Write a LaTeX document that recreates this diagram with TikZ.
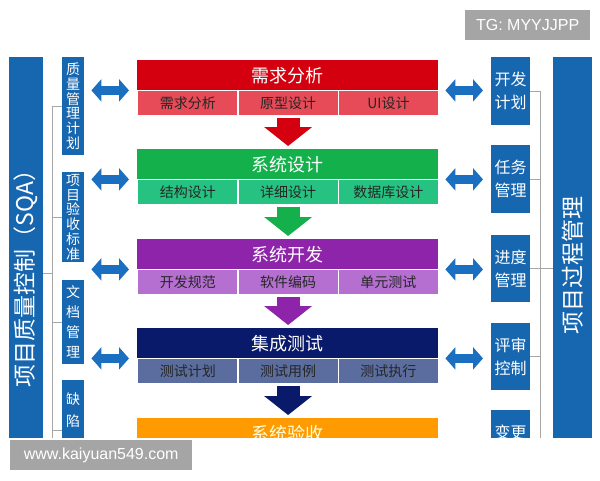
\documentclass[tikz,border=0pt]{standalone}
\usepackage{fontspec}
\setmainfont{Noto Sans CJK SC}
\newfontfamily\wmfont{Liberation Sans}
\usetikzlibrary{arrows.meta}
\definecolor{reqtop}{HTML}{D4000F}
\definecolor{reqsub}{HTML}{E64B57}
\definecolor{destop}{HTML}{13B04B}
\definecolor{dessub}{HTML}{26C281}
\definecolor{devtop}{HTML}{8E24AA}
\definecolor{devsub}{HTML}{B56FD0}
\definecolor{tsttop}{HTML}{0A1A6A}
\definecolor{tstsub}{HTML}{5B6D9E}
\definecolor{acctop}{HTML}{FF9A00}
\definecolor{boxblue}{HTML}{1666B0}
\definecolor{arrowblue}{HTML}{1A6FC1}
\definecolor{wmgray}{HTML}{A5A5A5}
\begin{document}
\begin{tikzpicture}[x=1pt,y=-1pt,
    title/.style={anchor=north west,minimum width=301pt,minimum height=30pt,inner sep=0pt,
      text=white,font=\fontsize{18}{18}\selectfont},
    cell/.style={anchor=north west,minimum width=100.33pt,minimum height=25pt,inner sep=0pt,
      draw=white,line width=1.2pt,text=black!85,font=\fontsize{14}{14}\selectfont},
    qbox/.style={fill=boxblue,text=white,anchor=north west,minimum width=22pt,inner sep=0pt,
      align=center,font=\fontsize{14}{14.8}\selectfont},
    pbox/.style={fill=boxblue,text=white,anchor=north west,minimum width=39pt,inner sep=0pt,
      align=center,font=\fontsize{16}{23}\selectfont},
    bar/.style={fill=boxblue,text=white,rotate=90,inner sep=0pt,font=\fontsize{23}{23}\selectfont},
    biarrow/.style={draw=arrowblue,line width=9pt,
      {Triangle[width=22pt,length=10pt]}-{Triangle[width=22pt,length=10pt]}},
    downarrow/.style={line width=23pt,-{Triangle[width=47pt,length=19pt]},
      shorten <=2pt,shorten >=3pt},
    bracket/.style={draw=gray!70,line width=1pt},
    wm/.style={fill=wmgray,text=white,anchor=north west,minimum height=30pt,inner sep=0pt,
      font=\wmfont\fontsize{16}{16}\selectfont}]
  \useasboundingbox (0,0) rectangle (600,480);
  \begin{scope}
    \clip (0,0) rectangle (600,437);
    \node[bar,minimum width=432pt,minimum height=34pt] (sqa) at (26,273) {项目质量控制（SQA）};
    \node[bar,minimum width=416pt,minimum height=39pt] (pm) at (572.5,265) {项目过程管理};
    \node[qbox,minimum height=98pt] (lq1) at (62,57) {质\\量\\管\\理\\计\\划};
    \node[qbox,minimum height=90pt] (lq2) at (62,172) {项\\目\\验\\收\\标\\准};
    \node[qbox,minimum height=84pt,font=\fontsize{14}{20}\selectfont] (lq3) at (62,280) {文\\档\\管\\理};
    \node[qbox,minimum height=60pt,font=\fontsize{14}{22}\selectfont] (lq4) at (62,380) {缺\\陷};
    \node[pbox,minimum height=68pt] (rp1) at (491,57) {开发\\计划};
    \node[pbox,minimum height=68pt] (rp2) at (491,145) {任务\\管理};
    \node[pbox,minimum height=67pt] (rp3) at (491,235) {进度\\管理};
    \node[pbox,minimum height=67pt] (rp4) at (491,323) {评审\\控制};
    \node[pbox,minimum height=44pt] (rp5) at (491,410) {变更};
    \node[title,fill=reqtop] (req) at (137,60) {需求分析};
    \node[cell,fill=reqsub] (req1) at (137,90) {需求分析};
    \node[cell,fill=reqsub] (req2) at (237.33,90) {原型设计};
    \node[cell,fill=reqsub] (req3) at (337.67,90) {UI设计};
    \node[title,fill=destop] (des) at (137,149) {系统设计};
    \node[cell,fill=dessub] (des1) at (137,179) {结构设计};
    \node[cell,fill=dessub] (des2) at (237.33,179) {详细设计};
    \node[cell,fill=dessub] (des3) at (337.67,179) {数据库设计};
    \node[title,fill=devtop] (dev) at (137,239) {系统开发};
    \node[cell,fill=devsub] (dev1) at (137,269) {开发规范};
    \node[cell,fill=devsub] (dev2) at (237.33,269) {软件编码};
    \node[cell,fill=devsub] (dev3) at (337.67,269) {单元测试};
    \node[title,fill=tsttop] (tst) at (137,328) {集成测试};
    \node[cell,fill=tstsub] (tst1) at (137,358) {测试计划};
    \node[cell,fill=tstsub] (tst2) at (237.33,358) {测试用例};
    \node[cell,fill=tstsub] (tst3) at (337.67,358) {测试执行};
    \node[title,fill=acctop,text=white!85!yellow] (acc) at (137,418) {系统验收};
    \draw[downarrow,draw=reqtop] (req2.south) -- (req2.south |- des.north);
    \draw[downarrow,draw=destop] (des2.south) -- (des2.south |- dev.north);
    \draw[downarrow,draw=devtop] (dev2.south) -- (dev2.south |- tst.north);
    \draw[downarrow,draw=tsttop] (tst2.south) -- (tst2.south |- acc.north);
    \begin{scope}[shorten <=7pt,shorten >=8pt]
      \draw[biarrow] (lq1.east |- req.south west) -- (req.south west);
      \draw[biarrow] (lq2.east |- des.south west) -- (des.south west);
      \draw[biarrow] (lq2.east |- dev.south west) -- (dev.south west);
      \draw[biarrow] (lq3.east |- tst.south west) -- (tst.south west);
      \draw[biarrow] (req.south east) -- (req.south east -| rp1.west);
      \draw[biarrow] (des.south east) -- (des.south east -| rp2.west);
      \draw[biarrow] (dev.south east) -- (dev.south east -| rp3.west);
      \draw[biarrow] (tst.south east) -- (tst.south east -| rp4.west);
    \end{scope}
    \coordinate (lbend) at (52,480);
    \coordinate (rbend) at (540,480);
    \draw[bracket] (lq1.west) -- (lq1.west -| lbend) -- (lbend);
    \draw[bracket] (lq2.west) -- (lq2.west -| lbend);
    \draw[bracket] (lq3.west) -- (lq3.west -| lbend);
    \draw[bracket] ([yshift=-20pt]lq4.west) -- ([yshift=-20pt]lq4.west -| lbend);
    \draw[bracket] (sqa.south) -- (sqa.south -| lbend);
    \draw[bracket] (rp1.east) -- (rp1.east -| rbend) -- (rbend);
    \draw[bracket] (rp2.east) -- (rp2.east -| rbend);
    \draw[bracket] (rp3.east) -- (rp3.east -| pm.north);
    \draw[bracket] (rp4.east) -- (rp4.east -| rbend);
  \end{scope}
  \node[wm,minimum width=125pt] (tg) at (465,10) {TG: MYYJJPP};
  \node[wm,minimum width=182pt] (site) at (10,440) {www.kaiyuan549.com};
\end{tikzpicture}
\end{document}
